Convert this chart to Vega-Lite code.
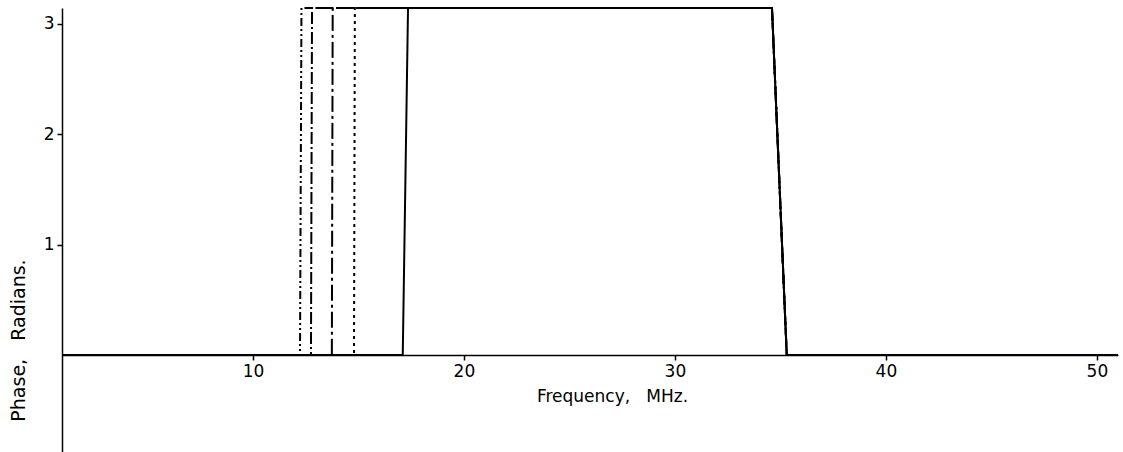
{
  "$schema": "https://vega.github.io/schema/vega-lite/v6.json",
  "autosize": {"type": "none"},
  "width": 1056,
  "height": 444,
  "padding": {"left": 62, "top": 8, "right": 5, "bottom": 0},
  "background": "white",
  "config": {
    "view": {"stroke": null},
    "font": "DejaVu Sans",
    "axis": {"grid": false, "domainColor": "black", "tickColor": "black", "labelColor": "black", "titleColor": "black", "domainWidth": 1.5, "tickWidth": 1.5, "labelFontSize": 17, "titleFontSize": 17, "titleFontWeight": "normal", "labelFont": "DejaVu Sans", "titleFont": "DejaVu Sans"}
  },
  "data": {
    "values": [
      {"s": "a", "f": 0.95, "p": 0}, {"s": "a", "f": 12.23, "p": 0}, {"s": "a", "f": 12.3, "p": 3.1416}, {"s": "a", "f": 34.6, "p": 3.1416}, {"s": "a", "f": 35.3, "p": 0}, {"s": "a", "f": 51.0, "p": 0},
      {"s": "b", "f": 0.95, "p": 0}, {"s": "b", "f": 12.75, "p": 0}, {"s": "b", "f": 12.8, "p": 3.1416}, {"s": "b", "f": 34.6, "p": 3.1416}, {"s": "b", "f": 35.3, "p": 0}, {"s": "b", "f": 51.0, "p": 0},
      {"s": "c", "f": 0.95, "p": 0}, {"s": "c", "f": 13.74, "p": 0}, {"s": "c", "f": 13.78, "p": 3.1416}, {"s": "c", "f": 34.6, "p": 3.1416}, {"s": "c", "f": 35.3, "p": 0}, {"s": "c", "f": 51.0, "p": 0},
      {"s": "d", "f": 0.95, "p": 0}, {"s": "d", "f": 14.79, "p": 0}, {"s": "d", "f": 14.83, "p": 3.1416}, {"s": "d", "f": 34.6, "p": 3.1416}, {"s": "d", "f": 35.3, "p": 0}, {"s": "d", "f": 51.0, "p": 0},
      {"s": "e", "f": 0.95, "p": 0}, {"s": "e", "f": 17.1, "p": 0}, {"s": "e", "f": 17.35, "p": 3.1416}, {"s": "e", "f": 34.6, "p": 3.1416}, {"s": "e", "f": 35.3, "p": 0}, {"s": "e", "f": 51.0, "p": 0}
    ]
  },
  "mark": {"type": "line", "color": "black", "strokeWidth": 2, "clip": false},
  "encoding": {
    "x": {
      "field": "f", "type": "quantitative",
      "scale": {"domain": [0.95, 51.0], "nice": false, "zero": false},
      "axis": {"values": [10, 20, 30, 40, 50], "offset": -97, "tickSize": 5, "labelPadding": 3, "title": "Frequency,\u00a0\u00a0 MHz.", "titleX": 550, "titleY": 33, "titleAnchor": null, "titleAlign": "center", "titleBaseline": "top"}
    },
    "y": {
      "field": "p", "type": "quantitative",
      "scale": {"domain": [-0.878, 3.1416], "nice": false, "zero": false},
      "axis": {"values": [1, 2, 3], "tickSize": 5, "labelPadding": 3, "title": "Phase,\u00a0\u00a0 Radians.", "titleFontSize": 19, "titleX": -44, "titleY": 332, "titleAngle": 270, "titleAlign": "center", "titleBaseline": "middle"}
    },
    "detail": {"field": "s"},
    "strokeDash": {
      "field": "s", "type": "nominal", "legend": null,
      "scale": {"domain": ["a", "b", "c", "d", "e"], "range": [[8, 3, 2, 3, 2, 3], [12, 3, 2, 3], [16, 4, 3, 4], [3, 4], [1, 0]]}
    },
    "order": {"field": "f", "type": "quantitative"}
  }
}
